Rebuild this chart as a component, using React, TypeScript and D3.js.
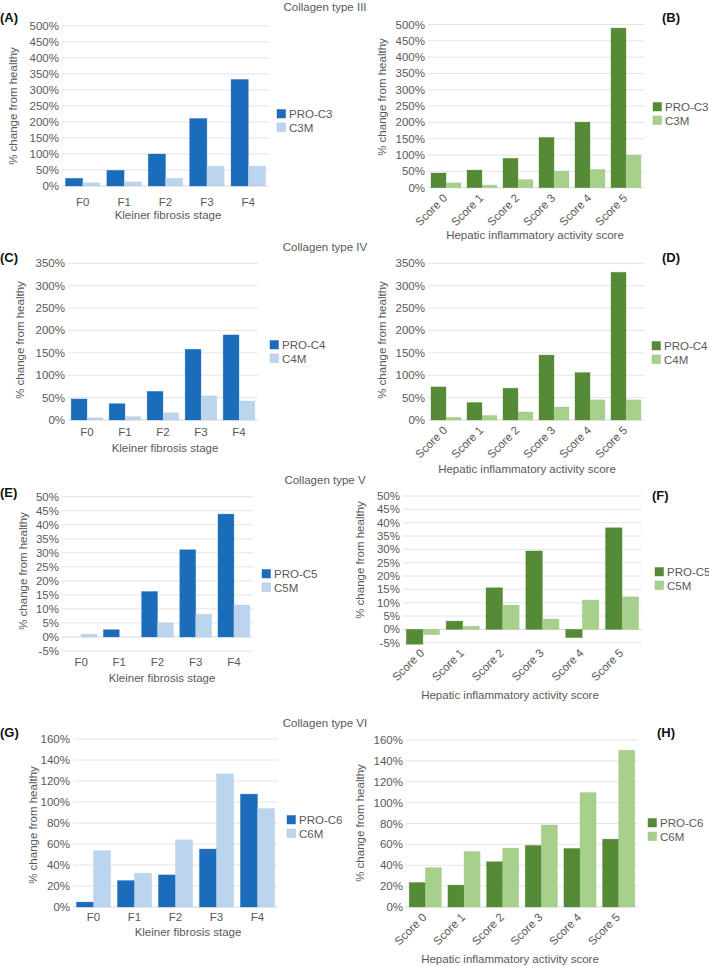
import React from "react";
import * as d3 from "d3";

// ---------- data ----------
const fibrosisStages = ["F0", "F1", "F2", "F3", "F4"];
const inflammationScores = ["Score 0", "Score 1", "Score 2", "Score 3", "Score 4", "Score 5"];

const collagenTitles = ["Collagen type III", "Collagen type IV", "Collagen type V", "Collagen type VI"];

const proC3Fibrosis = [24, 49, 100, 211, 333];
const c3mFibrosis = [10, 13, 24, 62, 62];
const proC3Inflam = [45, 54, 90, 154, 201, 489];
const c3mInflam = [15, 8, 25, 51, 56, 100];

const proC4Fibrosis = [47, 36.5, 64, 158, 190];
const c4mFibrosis = [5, 7.5, 16, 54, 42.5];
const proC4Inflam = [74, 39, 71, 145, 106, 330];
const c4mInflam = [6, 10, 18, 29, 45, 45];

const proC5Fibrosis = [0, 2.6, 16.2, 31.1, 43.8];
const c5mFibrosis = [1, 0, 5, 8.1, 11.4];
const proC5Inflam = [-5.6, 3.1, 15.6, 29.4, -3.1, 38.1];
const c5mInflam = [-2, 1.2, 9.1, 3.9, 11, 12.2];

const proC6Fibrosis = [4.7, 25.2, 30.6, 55.2, 107.5];
const c6mFibrosis = [53.6, 32.2, 64, 126.8, 93.7];
const proC6Inflam = [23.5, 21, 43.4, 59, 56.1, 65];
const c6mInflam = [37.7, 53.2, 56.4, 78.6, 109.7, 150.2];

const xTitleFibrosis = "Kleiner fibrosis stage";
const xTitleInflam = "Hepatic inflammatory activity score";
const yTitle = "% change from healthy";

// ---------- styles ----------
const BLUE_DARK = "#1b6cbb";
const BLUE_LIGHT = "#bcd5ee";
const GREEN_DARK = "#558a36";
const GREEN_LIGHT = "#a8d08d";
const TEXT = "#595959";
const GRID = "#e4e4e4";
const FONT = "'Liberation Sans', Arial, Helvetica, sans-serif";

type Series = { name: string; values: number[]; color: string };
type Panel = {
  letter: string;
  cats: string[];
  series: Series[];
  domain: [number, number];
  step: number;
  left: number;
  right: number;
  top: number;
  bottom: number;
  rotated: boolean;
  catY: number;
  xTitle: string;
  xTitleX: number;
  xTitleY: number;
  yTitleX: number;
  yTitleY: number;
  legendX: number;
  legendY: number;
  letterX: number;
  letterY: number;
};

const panels: Panel[] = [
  {
    letter: "(A)", cats: fibrosisStages,
    series: [
      { name: "PRO-C3", values: proC3Fibrosis, color: BLUE_DARK },
      { name: "C3M", values: c3mFibrosis, color: BLUE_LIGHT },
    ],
    domain: [0, 500], step: 50, left: 62, right: 269, top: 26, bottom: 186, rotated: false, catY: 206,
    xTitle: xTitleFibrosis, xTitleX: 168, xTitleY: 219, yTitleX: 17, yTitleY: 106,
    legendX: 277, legendY: 114, letterX: 0, letterY: 22,
  },
  {
    letter: "(B)", cats: inflammationScores,
    series: [
      { name: "PRO-C3", values: proC3Inflam, color: GREEN_DARK },
      { name: "C3M", values: c3mInflam, color: GREEN_LIGHT },
    ],
    domain: [0, 500], step: 50, left: 428, right: 644, top: 24.5, bottom: 187.7, rotated: true, catY: 0,
    xTitle: xTitleInflam, xTitleX: 535, xTitleY: 239, yTitleX: 386, yTitleY: 97,
    legendX: 653, legendY: 107, letterX: 662, letterY: 22,
  },
  {
    letter: "(C)", cats: fibrosisStages,
    series: [
      { name: "PRO-C4", values: proC4Fibrosis, color: BLUE_DARK },
      { name: "C4M", values: c4mFibrosis, color: BLUE_LIGHT },
    ],
    domain: [0, 350], step: 50, left: 68, right: 258, top: 263.3, bottom: 420, rotated: false, catY: 436,
    xTitle: xTitleFibrosis, xTitleX: 165, xTitleY: 452, yTitleX: 24, yTitleY: 340,
    legendX: 270, legendY: 345, letterX: 0, letterY: 262,
  },
  {
    letter: "(D)", cats: inflammationScores,
    series: [
      { name: "PRO-C4", values: proC4Inflam, color: GREEN_DARK },
      { name: "C4M", values: c4mInflam, color: GREEN_LIGHT },
    ],
    domain: [0, 350], step: 50, left: 428, right: 644, top: 263.3, bottom: 420, rotated: true, catY: 0,
    xTitle: xTitleInflam, xTitleX: 527, xTitleY: 473, yTitleX: 386, yTitleY: 340,
    legendX: 652, legendY: 346, letterX: 662, letterY: 262,
  },
  {
    letter: "(E)", cats: fibrosisStages,
    series: [
      { name: "PRO-C5", values: proC5Fibrosis, color: BLUE_DARK },
      { name: "C5M", values: c5mFibrosis, color: BLUE_LIGHT },
    ],
    domain: [-5, 50], step: 5, left: 62, right: 253, top: 496.7, bottom: 651, rotated: false, catY: 666,
    xTitle: xTitleFibrosis, xTitleX: 162, xTitleY: 682, yTitleX: 27, yTitleY: 571,
    legendX: 262, legendY: 574, letterX: 0, letterY: 497,
  },
  {
    letter: "(F)", cats: inflammationScores,
    series: [
      { name: "PRO-C5", values: proC5Inflam, color: GREEN_DARK },
      { name: "C5M", values: c5mInflam, color: GREEN_LIGHT },
    ],
    domain: [-5, 50], step: 5, left: 403, right: 642, top: 496, bottom: 642.7, rotated: true, catY: 0,
    xTitle: xTitleInflam, xTitleX: 510, xTitleY: 699, yTitleX: 364, yTitleY: 560,
    legendX: 655, legendY: 572, letterX: 652, letterY: 500,
  },
  {
    letter: "(G)", cats: fibrosisStages,
    series: [
      { name: "PRO-C6", values: proC6Fibrosis, color: BLUE_DARK },
      { name: "C6M", values: c6mFibrosis, color: BLUE_LIGHT },
    ],
    domain: [0, 160], step: 20, left: 73, right: 278, top: 739, bottom: 907, rotated: false, catY: 921,
    xTitle: xTitleFibrosis, xTitleX: 188, xTitleY: 936, yTitleX: 37, yTitleY: 825,
    legendX: 287, legendY: 820, letterX: 0, letterY: 737,
  },
  {
    letter: "(H)", cats: inflammationScores,
    series: [
      { name: "PRO-C6", values: proC6Inflam, color: GREEN_DARK },
      { name: "C6M", values: c6mInflam, color: GREEN_LIGHT },
    ],
    domain: [0, 160], step: 20, left: 406, right: 638, top: 740, bottom: 907, rotated: true, catY: 0,
    xTitle: xTitleInflam, xTitleX: 510, xTitleY: 963, yTitleX: 364, yTitleY: 823,
    legendX: 648, legendY: 823, letterX: 657, letterY: 737,
  },
];

const titlePositions = [11, 251, 484, 727];

function BarPanel({ p }: { p: Panel }) {
  const x0 = d3.scaleBand<string>().domain(p.cats).range([p.left, p.right]).paddingInner(0).paddingOuter(0);
  const x1 = d3
    .scaleBand<string>()
    .domain(p.series.map((s) => s.name))
    .range([0, x0.bandwidth()])
    .paddingInner(0)
    .paddingOuter(0.2);
  const y = d3.scaleLinear().domain(p.domain).range([p.bottom, p.top]);
  const ticks = d3.range(p.domain[0], p.domain[1] + p.step / 2, p.step);
  const fs = 11.5;

  return (
    <g>
      {ticks.map((t) => (
        <g key={t}>
          <line x1={p.left} x2={p.right} y1={y(t)} y2={y(t)} stroke={t === 0 ? "#d9d9d9" : GRID} strokeWidth={1} />
          <text x={p.left - 3} y={y(t)} dy="0.35em" textAnchor="end" fontSize={fs} fill={TEXT}>
            {`${t}%`}
          </text>
        </g>
      ))}
      {p.series.map((s) =>
        s.values.map((v, i) => {
          const bx = (x0(p.cats[i]) as number) + (x1(s.name) as number);
          const y0 = y(0);
          const yv = y(v);
          const h = Math.abs(yv - y0);
          if (h < 0.01) return null;
          return (
            <rect
              key={s.name + i}
              x={bx}
              y={Math.min(yv, y0)}
              width={x1.bandwidth()}
              height={h}
              fill={s.color}
              stroke={d3.color(s.color)!.darker(0.25).toString()}
              strokeOpacity={0.35}
              strokeWidth={0.8}
            />
          );
        })
      )}
      {p.cats.map((c) => {
        const cx = (x0(c) as number) + x0.bandwidth() / 2;
        return p.rotated ? (
          <text
            key={c}
            transform={`translate(${cx + 2},${p.bottom + 11}) rotate(-45)`}
            textAnchor="end"
            fontSize={fs}
            fill={TEXT}
          >
            {c}
          </text>
        ) : (
          <text key={c} x={cx} y={p.catY} textAnchor="middle" fontSize={fs} fill={TEXT}>
            {c}
          </text>
        );
      })}
      <text x={p.xTitleX} y={p.xTitleY} textAnchor="middle" fontSize={fs} fill={TEXT}>
        {p.xTitle}
      </text>
      <text
        transform={`translate(${p.yTitleX},${p.yTitleY}) rotate(-90)`}
        textAnchor="middle"
        fontSize={fs}
        fill={TEXT}
      >
        {yTitle}
      </text>
      {p.series.map((s, i) => (
        <g key={s.name}>
          <rect
            x={p.legendX}
            y={p.legendY + i * 13.5 - 4.5}
            width={8.5}
            height={8.5}
            fill={s.color}
            stroke={d3.color(s.color)!.darker(0.4).toString()}
            strokeOpacity={0.5}
            strokeWidth={0.8}
          />
          <text x={p.legendX + 12} y={p.legendY + i * 13.5} dy="0.35em" fontSize={fs} fill={TEXT}>
            {s.name}
          </text>
        </g>
      ))}
      <text x={p.letterX} y={p.letterY} fontSize={13} fontWeight="bold" fill="#111">
        {p.letter}
      </text>
    </g>
  );
}

export default function App() {
  return (
    <svg
      width={709}
      height={966}
      viewBox="0 0 709 966"
      style={{ position: "absolute", left: 0, top: 0, background: "#fff" }}
      fontFamily={FONT}
    >
      <rect x={0} y={0} width={709} height={966} fill="#fff" />
      {collagenTitles.map((t, i) => (
        <text key={t} x={325} y={titlePositions[i]} textAnchor="middle" fontSize={11.5} fill={TEXT}>
          {t}
        </text>
      ))}
      {panels.map((p) => (
        <BarPanel key={p.letter} p={p} />
      ))}
    </svg>
  );
}
